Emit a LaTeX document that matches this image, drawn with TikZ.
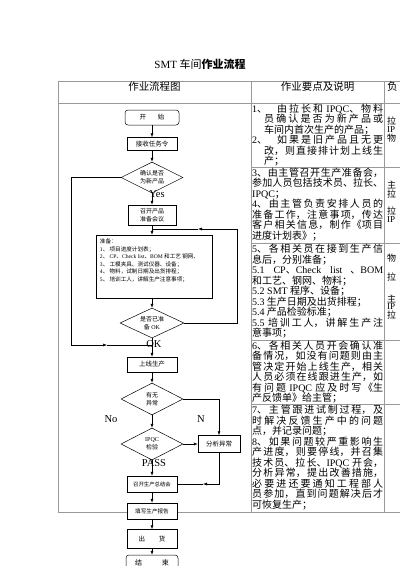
\documentclass[tikz,border=0pt]{standalone}
\usepackage{fontspec}
\setmainfont{Liberation Serif}
\newfontfamily\cjk{Noto Sans CJK SC}
\usetikzlibrary{positioning, shapes.geometric, arrows.meta}
\XeTeXlinebreaklocale "zh"
\XeTeXlinebreakskip=0pt plus 2pt
\newcommand\en[1]{{\rmfamily #1}}
\newcommand\txtset{\tolerance=10000 \hbadness=10000 \parindent=0pt\relax}

\begin{document}
\begin{tikzpicture}[x=1pt, y=-1pt,
    box/.style={draw, line width=0.5pt, fill=white, inner sep=0pt, align=center,
      minimum width=50pt, minimum height=15pt, font=\cjk\fontsize{6.5}{8}\selectfont},
    term/.style={box, rounded corners=3pt},
    dia/.style={draw, line width=0.5pt, fill=white, diamond, aspect=2, inner sep=0pt,
      align=center, minimum width=62pt, minimum height=31pt, font=\cjk\fontsize{6}{8}\selectfont},
    arr/.style={line width=0.5pt, -{Latex[length=4pt, width=3pt]}},
    lbl/.style={inner sep=0pt, font=\fontsize{10.5}{12}\selectfont},
    tline/.style={draw=black!40, line width=0.9pt},
    txt/.style={anchor=north west, inner sep=0pt, text width=131pt, align=justify,
      font=\cjk\fontsize{10}{10.5}\selectfont\txtset},
    c3/.style={anchor=west, inner sep=0pt, font=\cjk\fontsize{9}{9}\selectfont}]
    \useasboundingbox (0,0) rectangle (400,566);
    \clip (0,0) rectangle (400,566);
    %\draw[help lines] (0,0) grid[step=10] (400,566);

    \node[font=\cjk\fontsize{11}{13}\selectfont] (title) at (200,64) {\en{SMT} 车间\textbf{作业流程}};

    % table
    \draw[tline] (58,81) -- (400,81);
    \draw[tline] (58,103) -- (400,103);
    \draw[tline] (58,81) -- (58,512) -- (400,512);
    \draw[tline] (251,81) -- (251,512);
    \draw[tline] (384,81) -- (384,512);
    \foreach \y in {167,243,340,404.5} \draw[tline] (251,\y) -- (400,\y);

    \node[font=\cjk\fontsize{10.5}{12}\selectfont] (h1) at (154.5,87) {作业流程图};
    \node[font=\cjk\fontsize{10.5}{12}\selectfont] (h2) at (317.5,87) {作业要点及说明};
    \node[c3, font=\cjk\fontsize{10.5}{12}\selectfont] (h3) at (387,87) {负};

    \node[txt] (t1) at (252,103.5) {\hangindent=12pt\hangafter=1 \en{1}、\hspace{10pt}由拉长和 \en{IPQC}、物料\linebreak
      员确认是否为新产品或\linebreak
      车间内首次生产的产品；\par
      \hangindent=12pt\hangafter=1 \en{2}、\hspace{10pt}如果是旧产品且无更\linebreak
      改，则直接排计划上线生\linebreak
      产；\par};
    \node[txt] (t2) at (252,167.5) {\en{3}、由主管召开生产准备会，\linebreak
      参加人员包括技术员、拉长、\linebreak
      \en{IPQC}；\par
      \en{4}、由主管负责安排人员的\linebreak
      准备工作，注意事项，传达\linebreak
      客户相关信息，制作《项目\linebreak
      进度计划表》；\par};
    \node[txt] (t3) at (252,244) {\en{5}、各相关员在接到生产信\linebreak
      息后，分别准备；\par
      \en{5.1 CP}、\en{Check list} 、\en{BOM}\linebreak
      和工艺、钢网、物料；\par
      \en{5.2 SMT} 程序、设备；\par
      \en{5.3} 生产日期及出货排程；\par
      \en{5.4} 产品检验标准；\par
      \en{5.5} 培训工人，讲解生产注\linebreak
      意事项；\par};
    \node[txt] (t4) at (252,340.5) {\en{6}、各相关人员开会确认准\linebreak
      备情况，如没有问题则由主\linebreak
      管决定开始上线生产，相关\linebreak
      人员必须在线跟进生产，如\linebreak
      有问题 \en{IPQC} 应及时写《生\linebreak
      产反馈单》给主管；\par};
    \node[txt] (t5) at (252,405) {\en{7}、主管跟进试制过程，及\linebreak
      时解决反馈生产中的问题\linebreak
      点，并记录问题；\par
      \en{8}、如果问题较严重影响生\linebreak
      产进度，则要停线，并召集\linebreak
      技术员、拉长、\en{IPQC} 开会，\linebreak
      分析异常，提出改善措施，\linebreak
      必要进还要通知工程部人\linebreak
      员参加，直到问题解决后才\linebreak
      可恢复生产；\par};

    \foreach \y/\t [count=\i] in {121/拉, 130/\en{IP}, 138/物, 185/主, 194/拉, 211/拉, 220/\en{IP},
        258/物, 277/拉, 299/主, 307/\en{IP}, 315/拉}
      \node[c3] (who\i) at (387,\y) {\t};

    % flow chart
    \coordinate (l2) at (71,345);
    \coordinate (l3) at (107,345);
    \coordinate (l4) at (152,345);
    \coordinate (r2) at (237,229);
    \coordinate (r3) at (198,229);
    \coordinate (r4) at (152,229);
    \coordinate (b3) at (203,484);

    \node[term, minimum width=54pt] (start) at (152,117.5) {开\hspace{12pt}始};
    \node[box, minimum height=13pt] (recv) at (152,144) {接收任务令};
    \node[dia] (isnew) at (152,177.5) {确认是否\\为新产品};
    \node[box, minimum width=48pt, minimum height=20pt, font=\cjk\fontsize{6}{8}\selectfont] (meet) at (152,215) {召开产品\\准备会议};
    \node[draw, line width=0.5pt, minimum width=116pt, minimum height=63pt] (prep) at (154,266.5) {};
    \node[anchor=north west, inner sep=0pt, align=left, font=\cjk\fontsize{5.6}{7.5}\selectfont] (plist)
      at ([xshift=4pt, yshift=-4pt]prep.north west) {准备：\\
      \en{1}、 项目进度计划表；\\
      \en{2}、 \en{CP}、\en{Check list}、\en{BOM} 和工艺 钢网、\\
      \en{3}、 工模夹具、测试仪器、设备；\\
      \en{4}、 物料，试制日期及出货排程；\\
      \en{5}、 培训工人，讲解生产注意事项；};
    \node[dia, minimum width=64pt, minimum height=30pt] (ready) at (152,323) {是否已准\\备 \en{OK}};
    \node[box] (online) at (152,364.5) {上线生产};
    \node[dia, minimum height=32pt] (abn) at (152,399) {有无\\异常};
    \node[box, minimum width=42pt, minimum height=17pt] (anal) at (219,444) {分析异常};
    \node[dia, minimum height=32pt] (ipqc) at (152,444) {\en{IPQC}\\检验};
    \node[box, minimum height=16pt, font=\cjk\fontsize{5.4}{7}\selectfont] (summ) at (152,484) {召开生产总结会};
    \node[box, minimum height=16pt, font=\cjk\fontsize{5.6}{7}\selectfont] (report) at (152,511) {填写生产报告};
    \node[box, minimum height=19pt] (ship) at (152,539) {出\hspace{14pt}货};
    \node[term, minimum width=52pt, minimum height=16pt, font=\cjk\fontsize{7}{8}\selectfont] (finish) at (152,563) {结\hspace{20pt}束};

    \draw[arr] (start) -- (recv);
    \draw[arr] (recv) -- (isnew);
    \draw[arr] (isnew) -- (meet);
    \draw[arr] (meet.south) -- (meet.south |- prep.north);
    \draw[arr] (ready.north |- prep.south) -- (ready.north);
    \draw[arr] (ready) -- (online);
    \draw[arr] (online) -- (abn);
    \draw[arr] (abn) -- (ipqc);
    \draw[arr] (ipqc) -- (summ);
    \draw[arr] (summ) -- (report);
    \draw[arr] (report) -- (ship);
    \draw[arr] (ship) -- (finish);

    \draw[arr] (isnew.west) -| (l2) -- (l3);
    \draw[line width=0.5pt] (l3) -- (l4);
    \draw[arr] (ready.east) -| (r2) -- (r3);
    \draw[line width=0.5pt] (r3) -- (r4);
    \draw[arr] (abn.east) -| (anal.north);
    \draw[arr] (ipqc.east) -- (anal.west);
    \draw[arr] (anal.south) |- (b3);
    \draw[line width=0.5pt] (b3) -- (summ.east);

    \node[lbl] (yes) at (157,194) {Yes};
    \node[lbl] (ok) at (154,344) {OK};
    \node[lbl] (no) at (111,419) {No};
    \node[lbl] (n) at (201,419) {N};
    \node[lbl] (pass) at (154,463) {PASS};
\end{tikzpicture}
\end{document}
